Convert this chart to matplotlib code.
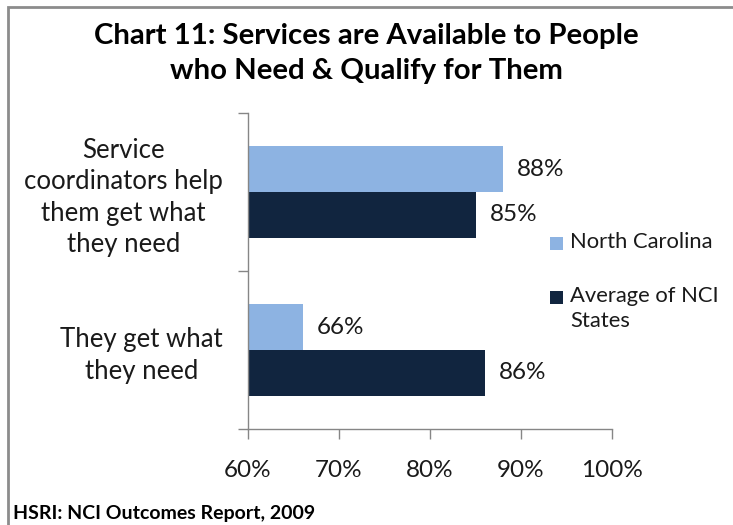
import matplotlib.pyplot as plt
from matplotlib.patches import Rectangle
from matplotlib.ticker import FixedLocator

plt.rcParams['font.family'] = ['Lato', 'DejaVu Sans']

# data
categories = ['Service\ncoordinators help\nthem get what\nthey need', 'They get what\nthey need']
nc_values = [88, 66]
avg_values = [85, 86]
series_names = ['North Carolina', 'Average of NCI\nStates']
xticks = [60, 70, 80, 90, 100]

nc_color = '#8DB3E2'
avg_color = '#11253F'
axis_gray = '#868686'

W, H = 733, 525
fig = plt.figure(figsize=(W / 100, H / 100), dpi=100)

# outer chart frame: only the left and top edges fall inside the picture
fig.patches.append(Rectangle((8 / W, -0.1), 1.1, 1.1 - 7 / H,
                             transform=fig.transFigure, facecolor='none',
                             edgecolor='#8C8C8C', linewidth=2))

ax = fig.add_axes([248 / W, 1 - 429 / H, (612 - 248) / W, (429 - 113) / H])

h = 0.29
ypos = [0, 1]
b1 = ax.barh([y - h / 2 for y in ypos], [v - 60 for v in nc_values], left=60,
             height=h, color=nc_color)
b2 = ax.barh([y + h / 2 for y in ypos], [v - 60 for v in avg_values], left=60,
             height=h, color=avg_color)

for bars, vals in [(b1, nc_values), (b2, avg_values)]:
    for bar, v in zip(bars, vals):
        ax.text(v + 1.6, bar.get_y() + bar.get_height() / 2, f'{v}%',
                va='center', ha='left', fontsize=17.5, color='#1a1a1a')

ax.set_xlim(60, 100)
ax.set_ylim(1.5, -0.5)
ax.set_xticks(xticks)
ax.set_xticklabels([f'{t}%' for t in xticks], fontsize=17.5, color='#1a1a1a')
ax.set_yticks(ypos)
ax.set_yticklabels(categories, fontsize=18.5, ha='right', multialignment='center',
                   linespacing=1.32, color='#1a1a1a')
ax.tick_params(axis='y', which='major', length=0, pad=18)
ax.yaxis.set_minor_locator(FixedLocator([-0.5, 0.5, 1.5]))
ax.tick_params(axis='y', which='minor', length=7, color=axis_gray, width=1)
ax.tick_params(axis='x', length=7, color=axis_gray, width=1, pad=15)

for s in ['top', 'right']:
    ax.spines[s].set_visible(False)
for s in ['left', 'bottom']:
    ax.spines[s].set_color(axis_gray)
    ax.spines[s].set_linewidth(1)

fig.text(0.5, 1 - 53.5 / H, 'Chart 11: Services are Available to People\nwho Need & Qualify for Them',
         ha='center', va='center', fontsize=21.2, fontweight='bold', linespacing=1.4)

# legend
for (top, name, col) in [(237, series_names[0], nc_color), (291, series_names[1], avg_color)]:
    fig.patches.append(Rectangle((550 / W, 1 - (top + 13) / H), 13 / W, 13 / H,
                                 transform=fig.transFigure, facecolor=col,
                                 edgecolor='none'))
    fig.text(570 / W, 1 - (top - 5) / H, name, ha='left', va='top', fontsize=15.8,
             linespacing=1.3, color='#1a1a1a')

fig.text(13 / W, 1 - 514 / H, 'HSRI: NCI Outcomes Report, 2009', ha='left', va='center',
         fontsize=14, fontweight='bold')

fig.savefig('out.png', dpi=100)
